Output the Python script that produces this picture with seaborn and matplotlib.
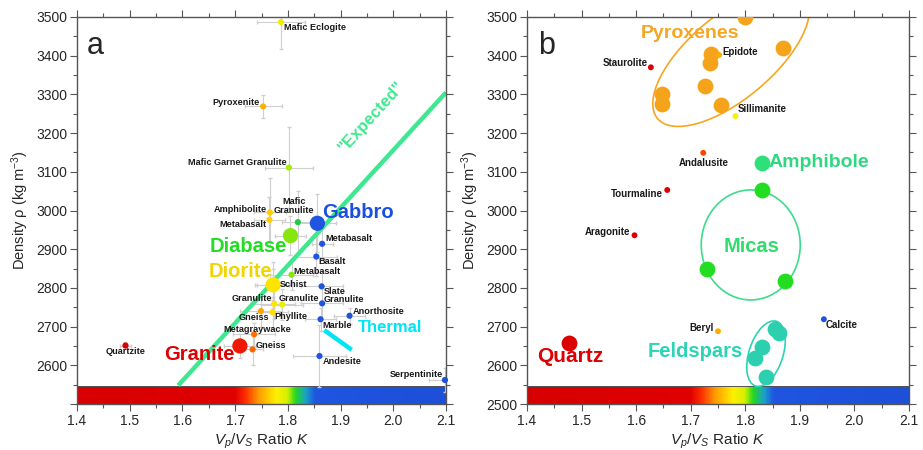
import matplotlib
matplotlib.use("Agg")
import matplotlib.pyplot as plt
import matplotlib.colors as mcolors
import matplotlib.transforms as mtransforms
from matplotlib.patches import Ellipse
import numpy as np
import pandas as pd
import seaborn as sns

# ==========================================
# 1. DATA
# ==========================================
# panel a : rocks (Vp/Vs ratio K, density), grey bars = spread
rock_names = ["Mafic Eclogite", "Pyroxenite", "Mafic Garnet Granulite", "Amphibolite",
              "Metabasalt", "Mafic\nGranulite", "Gabbro", "Metabasalt", "Basalt",
              "Metabasalt", "Diabase", "Diorite", "Schist", "Slate", "Granulite",
              "Granulite", "Granulite", "Anorthosite", "Gneiss", "Phyllite", "Marble",
              "Metagraywacke", "Gneiss", "Granite", "Quartzite", "Andesite", "Serpentinite"]
rock_k = [1.787, 1.753, 1.802, 1.766, 1.765, 1.819, 1.856, 1.865, 1.854,
          1.807, 1.805, 1.772, 1.772, 1.864, 1.774, 1.789, 1.865, 1.917, 1.749,
          1.771, 1.862, 1.736, 1.733, 1.709, 1.492, 1.860, 2.098]
rock_rho = [3487, 3269, 3111, 2995, 2976, 2970, 2967, 2914, 2881,
            2834, 2935, 2808, 2808, 2804, 2759, 2757, 2760, 2728, 2740,
            2737, 2719, 2680, 2641, 2650, 2651, 2624, 2562]
rock_kerr = [0.045, 0.035, 0.045, 0.03, 0.03, 0.03, 0.035, 0.02, 0.04,
             0.04, 0.03, 0.035, 0.03, 0.04, 0.04, 0.04, 0.04, 0.03, 0.04,
             0.03, 0.03, 0.04, 0.02, 0.03, 0.01, 0.05, 0.03]
rock_rhoerr = [70, 30, 105, 90, 60, 80, 75, 40, 50,
               40, 50, 60, 40, 40, 40, 40, 40, 20, 40,
               40, 30, 30, 40, 30, 10, 80, 30]
rock_big = ["small", "small", "small", "small", "small", "small", "big", "small", "small",
            "small", "big", "big", "small", "small", "small", "small", "small", "small", "small",
            "small", "small", "small", "small", "big", "small", "small", "small"]

# thermal trend and "expected" trend
thermal_k = [1.869, 1.921]
thermal_rho = [2691, 2640]
expected_k = [1.592, 2.10]
expected_rho = [2548, 3305]

# panel b : minerals
mineral_names = ["Staurolite", "Epidote", "Sillimanite", "Andalusite", "Tourmaline",
                 "Aragonite", "Beryl", "Calcite"]
mineral_k = [1.627, 1.752, 1.782, 1.723, 1.657, 1.597, 1.750, 1.944]
mineral_rho = [3370, 3402, 3244, 3149, 3053, 2936, 2688, 2719]

pyroxene_k = [1.800, 1.870, 1.737, 1.735, 1.727, 1.647, 1.647, 1.756]
pyroxene_rho = [3499, 3421, 3404, 3381, 3321, 3302, 3274, 3273]
amphibole_k = [1.830]
amphibole_rho = [3124]
mica_k = [1.831, 1.729, 1.873]
mica_rho = [3053, 2850, 2817]
feldspar_k = [1.854, 1.861, 1.831, 1.818, 1.838]
feldspar_rho = [2695, 2684, 2648, 2618, 2571]
quartz_k = [1.477]
quartz_rho = [2657]

# ==========================================
# 2. STYLE / LAYOUT
# ==========================================
sns.set_theme(style="ticks")
plt.rcParams["font.family"] = ["Liberation Sans", "DejaVu Sans"]
plt.rcParams["mathtext.fontset"] = "custom"
plt.rcParams["mathtext.rm"] = "Liberation Sans"
plt.rcParams["mathtext.it"] = "Liberation Sans:italic"

k_min, k_max = 1.4, 2.1
rho_min, rho_max = 2500, 3500
band_top = 2546

cmap = mcolors.LinearSegmentedColormap.from_list("vpvs", [
    (0.0, "#d80000"), (0.4286, "#e00000"), (0.457, "#ff3000"), (0.493, "#ff9c00"),
    (0.54, "#fff000"), (0.571, "#d4f000"), (0.593, "#22d822"), (0.621, "#1aa0cc"),
    (0.646, "#1f55e0"), (1.0, "#1d4fd8")])
norm = mcolors.Normalize(k_min, k_max)

# label offsets in pixels (ha, dx, dy)
rock_label_pos = [("left", 3, -5), ("right", -3, 4), ("right", -2, 5), ("right", -3, 3),
                  ("right", -3, -5), ("center", -4, 16), ("left", 5, 11), ("left", 3, 5),
                  ("left", 2, -5), ("left", 2, 3), ("right", -3, -11), ("right", -1, 13),
                  ("left", 7, 0), ("left", 2, -5), ("right", -2, 5), ("left", -3, 6),
                  ("left", 2, 4), ("left", 3, 4), ("center", -7, -6), ("left", 2, -4),
                  ("left", 2, -6), ("center", 3, 5), ("left", 3, 4), ("right", -5, -9),
                  ("center", 0, -6), ("left", 3, -5), ("right", -2, 6)]
big_label_colors = {"Gabbro": "#1a4fe0", "Diabase": "#22dd22",
                    "Diorite": "#f2d400", "Granite": "#dd0000"}
mineral_label_pos = [("right", -3, 4), ("left", 3, 3), ("left", 2, 7), ("center", 0, -10),
                     ("right", -4, -4), ("right", -4, 3), ("right", -4, 3), ("left", 2, -6)]

fig = plt.figure(figsize=(9.23, 4.5), dpi=100)
ax_a = fig.add_axes([77 / 923, 46 / 450, 369 / 923, 387 / 450])
ax_b = fig.add_axes([527 / 923, 46 / 450, 382 / 923, 387 / 450])


def setup_axes(ax, show_bottom_label):
    gradient = np.linspace(k_min, k_max, 600)[None, :]
    ax.imshow(gradient, cmap=cmap, norm=norm, aspect="auto",
              extent=(k_min, k_max, rho_min, band_top), zorder=0.5)
    ax.axhline(band_top, color="#555555", lw=0.7, zorder=0.6)
    ax.set_xlim(k_min, k_max)
    ax.set_ylim(rho_min, rho_max)
    ax.set_xticks(np.arange(1.4, 2.11, 0.1))
    ax.set_xticklabels([f"{v:.1f}" for v in np.arange(1.4, 2.11, 0.1)])
    ax.set_xticks(np.arange(1.45, 2.1, 0.1), minor=True)
    yt = np.arange(2500, 3501, 100)
    ax.set_yticks(yt)
    ax.set_yticklabels([str(v) if (v > 2500 or show_bottom_label) else "" for v in yt])
    ax.set_yticks(np.arange(2550, 3500, 100), minor=True)
    ax.tick_params(which="both", direction="out", top=True, right=True,
                   labelsize=10, color="#555555", width=0.8, pad=2)
    ax.tick_params(which="major", length=5)
    ax.tick_params(which="minor", length=3)
    for s in ax.spines.values():
        s.set_color("#555555")
        s.set_linewidth(1.0)
    ax.set_xlabel("$V_p/V_S$ Ratio $K$", fontsize=11, labelpad=3)
    ax.set_ylabel("Density ρ (kg m$^{-3}$)", fontsize=10.5, labelpad=4)


def draw_ellipse(ax, cx, cy, w_in, h_in, angle, color):
    trans = ax.figure.dpi_scale_trans + mtransforms.ScaledTranslation(cx, cy, ax.transData)
    ax.add_patch(Ellipse((0, 0), w_in, h_in, angle=angle, transform=trans,
                         fill=False, edgecolor=color, lw=1.2, zorder=2))


# ==========================================
# 3. PANEL A
# ==========================================
setup_axes(ax_a, show_bottom_label=False)
df_a = pd.DataFrame({"name": rock_names, "K": rock_k, "rho": rock_rho,
                     "kerr": rock_kerr, "rhoerr": rock_rhoerr, "size": rock_big})

ax_a.errorbar(df_a["K"], df_a["rho"], xerr=df_a["kerr"], yerr=df_a["rhoerr"],
              fmt="none", ecolor="#cfcfcf", elinewidth=0.8, capsize=1.5, zorder=1)
ax_a.plot(expected_k, expected_rho, color="#3fe890", lw=3.2, zorder=2,
          solid_capstyle="butt")
ax_a.plot(thermal_k, thermal_rho, color="#00e4f4", lw=3.2, zorder=2,
          solid_capstyle="butt")
sns.scatterplot(data=df_a, x="K", y="rho", hue="K", palette=cmap, hue_norm=norm,
                size="size", sizes={"small": 20, "big": 120}, linewidth=0,
                legend=False, ax=ax_a, zorder=3, clip_on=False)

for i, row in df_a.iterrows():
    ha, dx, dy = rock_label_pos[i]
    if row["name"] in big_label_colors:
        ax_a.annotate(row["name"], (row["K"], row["rho"]), xytext=(dx, dy),
                      textcoords="offset pixels", ha=ha, va="center", fontsize=14.5,
                      fontweight="bold", color=big_label_colors[row["name"]], zorder=4)
    else:
        ax_a.annotate(row["name"], (row["K"], row["rho"]), xytext=(dx, dy),
                      textcoords="offset pixels", ha=ha, va="center", fontsize=6.6,
                      fontweight="bold", color="#1a1a1a", linespacing=0.9, zorder=4)

ax_a.annotate("Thermal", (thermal_k[1], thermal_rho[1]), xytext=(6, 22),
              textcoords="offset pixels", ha="left", va="center", fontsize=12,
              fontweight="bold", color="#00e4f4")
ax_a.text(1.958, 3243, "\"Expected\"", rotation=47.7, rotation_mode="anchor",
          ha="center", va="center", fontsize=12, fontweight="bold", color="#3fe890")
ax_a.text(0.027, 0.905, "a", transform=ax_a.transAxes, fontsize=22, va="baseline")

# ==========================================
# 4. PANEL B
# ==========================================
setup_axes(ax_b, show_bottom_label=True)

draw_ellipse(ax_b, 1.774, 3397, 1.92, 0.84, 40, "#f5a623")
draw_ellipse(ax_b, 1.810, 2911, 0.99, 1.10, 0, "#3ddc8c")
draw_ellipse(ax_b, 1.838, 2630, 0.68, 0.34, 72, "#2ad4b4")

groups = [(pyroxene_k, pyroxene_rho, "#f5a31a"),
          (amphibole_k, amphibole_rho, "#2ee07a"),
          (mica_k, mica_rho, "#22dd22"),
          (feldspar_k, feldspar_rho, "#2ccfae"),
          (quartz_k, quartz_rho, "#dd0000")]
for gk, grho, col in groups:
    sns.scatterplot(x=gk, y=grho, color=col, s=130, linewidth=0, ax=ax_b,
                    zorder=3, legend=False)

df_b = pd.DataFrame({"name": mineral_names, "K": mineral_k, "rho": mineral_rho})
sns.scatterplot(data=df_b, x="K", y="rho", hue="K", palette=cmap, hue_norm=norm,
                s=18, linewidth=0, legend=False, ax=ax_b, zorder=3)
for i, row in df_b.iterrows():
    ha, dx, dy = mineral_label_pos[i]
    ax_b.annotate(row["name"], (row["K"], row["rho"]), xytext=(dx, dy),
                  textcoords="offset pixels", ha=ha, va="center", fontsize=7,
                  fontweight="bold", color="#1a1a1a", zorder=4)

ax_b.text(1.699, 3458, "Pyroxenes", ha="center", va="center", fontsize=14,
          fontweight="bold", color="#f5a623", zorder=4)
ax_b.annotate("Amphibole", (amphibole_k[0], amphibole_rho[0]), xytext=(7, 0),
              textcoords="offset pixels", ha="left", va="center", fontsize=14,
              fontweight="bold", color="#2ed880", zorder=4)
ax_b.text(1.811, 2907, "Micas", ha="center", va="center", fontsize=14.5,
          fontweight="bold", color="#30dc6c", zorder=4)
ax_b.text(1.708, 2635, "Feldspars", ha="center", va="center", fontsize=14.5,
          fontweight="bold", color="#2ad4b4", zorder=4)
ax_b.annotate("Quartz", (quartz_k[0], quartz_rho[0]), xytext=(1, -13),
              textcoords="offset pixels", ha="center", va="center", fontsize=15,
              fontweight="bold", color="#dd0000", zorder=4)
ax_b.text(0.028, 0.905, "b", transform=ax_b.transAxes, fontsize=22, va="baseline")

fig.savefig("out.png", dpi=100)
